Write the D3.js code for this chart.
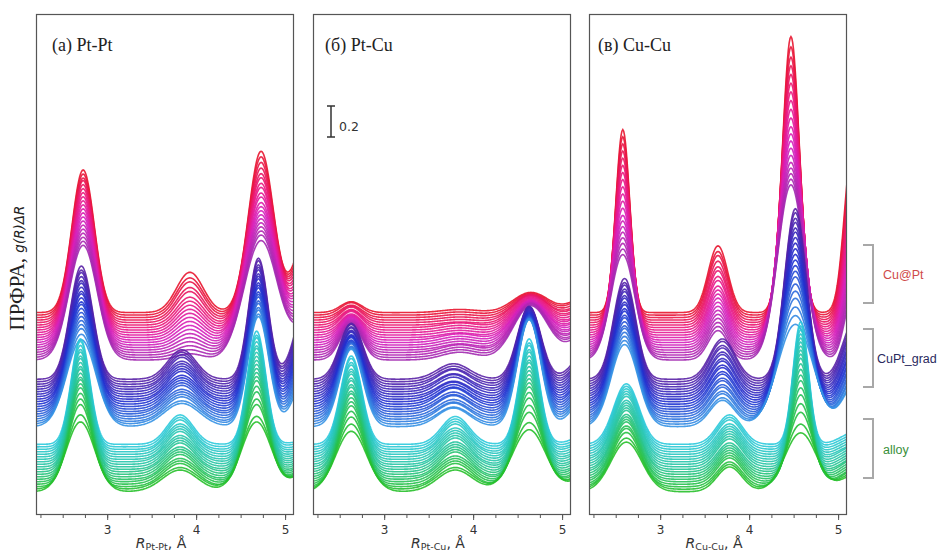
<!DOCTYPE html>
<html><head><meta charset="utf-8">
<script src="https://cdn.jsdelivr.net/npm/d3@7"></script>
<style>body{margin:0;background:#fff} svg{display:block}</style>
</head><body>
<svg id="c" width="943" height="553"></svg>
<script>
// ================= DATA =================
const panelTitles = ["(a) Pt-Pt", "(б) Pt-Cu", "(в) Cu-Cu"];
const pairSubs    = ["Pt-Pt", "Pt-Cu", "Cu-Cu"];
const groupNames  = ["alloy", "CuPt_grad", "Cu@Pt"];
const xDomain     = [2.2, 5.1];
const xTickValues = [3, 4, 5];
const scaleBarValue = 0.2;

// peak centres (Å), peak areas (0 = fixed width) and fixed widths (Å), per group
// ---- Pt-Pt ----
const PtPt_alloy_c = [2.70, 3.82, 4.68, 5.42], PtPt_alloy_n = [0.18, 0.07, 0.19, 0], PtPt_alloy_s = [0, 0, 0, 0.20];
const PtPt_grad_c  = [2.71, 3.84, 4.70, 5.28], PtPt_grad_n  = [0.23, 0.075, 0.21, 0], PtPt_grad_s  = [0, 0, 0, 0.15];
const PtPt_cs_c    = [2.73, 3.93, 4.73, 5.28], PtPt_cs_n    = [0.29, 0, 0.37, 0],     PtPt_cs_s    = [0, 0.15, 0, 0.15];
// peak heights, one row per peak, curves listed bottom -> top
const PtPt_alloy_A = [
 [0.45,0.48,0.53,0.55,0.57,0.59,0.60,0.61,0.61,0.62,0.63,0.63,0.64,0.65,0.65,0.66,0.66,0.67,0.68,0.68],
 [0.14,0.14,0.15,0.15,0.15,0.16,0.16,0.16,0.16,0.17,0.17,0.17,0.17,0.18,0.18,0.18,0.18,0.19,0.19,0.19],
 [0.45,0.47,0.53,0.55,0.58,0.60,0.62,0.63,0.64,0.65,0.66,0.67,0.68,0.69,0.70,0.70,0.71,0.72,0.72,0.73],
 [0.28,0.26,0.24,0.22,0.20,0.19,0.18,0.16,0.15,0.14,0.13,0.12,0.11,0.10,0.09,0.08,0.07,0.06,0.06,0.05]];
const PtPt_grad_A = [
 [0.56,0.58,0.60,0.61,0.62,0.63,0.64,0.65,0.66,0.66,0.67,0.68,0.68,0.69,0.70,0.70,0.71,0.72,0.72,0.73],
 [0.15,0.15,0.16,0.16,0.16,0.16,0.17,0.17,0.17,0.17,0.17,0.18,0.18,0.18,0.18,0.18,0.19,0.19,0.19,0.19],
 [0.71,0.71,0.72,0.72,0.73,0.73,0.74,0.74,0.74,0.75,0.75,0.75,0.76,0.76,0.76,0.77,0.77,0.77,0.78,0.78],
 [0.40,0.41,0.42,0.43,0.44,0.45,0.46,0.47,0.48,0.49,0.50,0.51,0.52,0.52,0.53,0.54,0.55,0.56,0.56,0.57]];
const PtPt_cs_A = [
 [0.74,0.75,0.76,0.77,0.78,0.79,0.80,0.81,0.82,0.83,0.84,0.85,0.86,0.87,0.88,0.89,0.90,0.90,0.91,0.92],
 [0.04,0.05,0.06,0.07,0.08,0.09,0.10,0.11,0.12,0.13,0.14,0.15,0.16,0.17,0.18,0.20,0.21,0.23,0.24,0.26],
 [0.77,0.79,0.80,0.81,0.82,0.83,0.84,0.85,0.86,0.87,0.89,0.90,0.92,0.93,0.95,0.96,0.98,1.00,1.02,1.04],
 [0.25,0.27,0.29,0.30,0.32,0.34,0.35,0.37,0.39,0.40,0.42,0.44,0.46,0.48,0.50,0.52,0.54,0.56,0.58,0.60]];
// ---- Pt-Cu ----
const PtCu_alloy_c = [2.63, 3.80, 4.63, 5.35], PtCu_alloy_n = [0.17, 0.07, 0.19, 0], PtCu_alloy_s = [0, 0, 0, 0.18];
const PtCu_grad_c  = [2.63, 3.78, 4.63, 5.30], PtCu_grad_n  = [0, 0, 0, 0],   PtCu_grad_s  = [0.13, 0.18, 0.13, 0.16];
const PtCu_cs_c    = [2.63, 3.85, 4.65, 5.30], PtCu_cs_n    = [0, 0, 0, 0],   PtCu_cs_s    = [0.12, 0.20, 0.20, 0.18];
const PtCu_alloy_A = [
 [0.39,0.42,0.45,0.47,0.49,0.50,0.51,0.52,0.52,0.53,0.53,0.54,0.54,0.55,0.55,0.55,0.56,0.56,0.57,0.57],
 [0.14,0.14,0.15,0.15,0.15,0.15,0.16,0.16,0.16,0.16,0.16,0.17,0.17,0.17,0.17,0.17,0.18,0.18,0.18,0.18],
 [0.40,0.43,0.48,0.51,0.54,0.56,0.58,0.59,0.60,0.61,0.62,0.63,0.64,0.64,0.65,0.66,0.66,0.67,0.67,0.68],
 [0.14,0.14,0.13,0.13,0.12,0.12,0.12,0.11,0.11,0.11,0.10,0.10,0.10,0.09,0.09,0.09,0.09,0.08,0.08,0.08]];
const PtCu_grad_A = [
 [0.50,0.49,0.48,0.47,0.47,0.46,0.45,0.44,0.43,0.43,0.42,0.41,0.40,0.40,0.39,0.38,0.38,0.37,0.37,0.36],
 [0.12,0.11,0.12,0.11,0.11,0.12,0.11,0.11,0.12,0.11,0.11,0.11,0.10,0.11,0.11,0.10,0.11,0.10,0.10,0.10],
 [0.69,0.68,0.66,0.65,0.64,0.62,0.61,0.60,0.59,0.58,0.57,0.56,0.55,0.54,0.53,0.52,0.51,0.50,0.48,0.47],
 [0.23,0.23,0.23,0.22,0.22,0.22,0.22,0.22,0.22,0.21,0.21,0.21,0.21,0.21,0.21,0.21,0.21,0.20,0.20,0.20]];
const PtCu_cs_A = [
 [0.23,0.22,0.21,0.20,0.19,0.18,0.17,0.16,0.15,0.14,0.13,0.12,0.12,0.11,0.10,0.10,0.09,0.08,0.08,0.07],
 [0.05,0.05,0.05,0.05,0.04,0.04,0.04,0.04,0.04,0.03,0.03,0.03,0.03,0.03,0.02,0.02,0.02,0.02,0.02,0.02],
 [0.35,0.34,0.33,0.32,0.30,0.29,0.28,0.27,0.25,0.24,0.23,0.22,0.21,0.20,0.19,0.18,0.16,0.15,0.14,0.13],
 [0.19,0.19,0.18,0.18,0.17,0.17,0.16,0.16,0.16,0.15,0.15,0.14,0.14,0.14,0.13,0.13,0.12,0.12,0.12,0.11]];
// ---- Cu-Cu ----
const CuCu_alloy_c = [2.62, 3.78, 4.58, 5.20], CuCu_alloy_n = [0.14, 0, 0.17, 0], CuCu_alloy_s = [0, 0.14, 0, 0.16];
const CuCu_grad_c  = [2.60, 3.70, 4.52, 5.18], CuCu_grad_n  = [0.20, 0, 0.33, 0], CuCu_grad_s  = [0, 0.14, 0, 0.13];
const CuCu_cs_c    = [2.58, 3.65, 4.47, 5.16], CuCu_cs_n    = [0.23, 0, 0.42, 0], CuCu_cs_s    = [0, 0.11, 0, 0.09];
const CuCu_alloy_A = [
 [0.32,0.33,0.35,0.36,0.36,0.37,0.37,0.37,0.37,0.38,0.38,0.38,0.38,0.38,0.39,0.39,0.39,0.39,0.39,0.39],
 [0.16,0.16,0.16,0.17,0.17,0.17,0.17,0.17,0.17,0.17,0.18,0.18,0.18,0.18,0.18,0.18,0.18,0.19,0.19,0.19],
 [0.38,0.42,0.48,0.52,0.56,0.59,0.62,0.64,0.66,0.68,0.70,0.71,0.72,0.73,0.74,0.75,0.76,0.77,0.78,0.79],
 [0.11,0.11,0.11,0.10,0.10,0.10,0.10,0.10,0.09,0.09,0.09,0.09,0.09,0.09,0.08,0.08,0.08,0.08,0.08,0.08]];
const CuCu_grad_A = [
 [0.53,0.54,0.55,0.56,0.57,0.57,0.58,0.59,0.59,0.60,0.60,0.61,0.61,0.62,0.62,0.63,0.63,0.64,0.64,0.65],
 [0.17,0.17,0.18,0.18,0.19,0.19,0.20,0.20,0.21,0.21,0.22,0.22,0.23,0.23,0.24,0.24,0.25,0.25,0.26,0.26],
 [0.66,0.70,0.74,0.78,0.81,0.84,0.87,0.89,0.91,0.93,0.95,0.97,0.99,1.01,1.03,1.04,1.06,1.07,1.09,1.10],
 [0.26,0.26,0.27,0.27,0.28,0.28,0.29,0.29,0.30,0.30,0.31,0.31,0.32,0.33,0.33,0.34,0.35,0.35,0.36,0.37]];
const CuCu_cs_A = [
 [0.68,0.70,0.72,0.74,0.76,0.78,0.80,0.82,0.85,0.88,0.91,0.94,0.97,1.00,1.03,1.06,1.09,1.12,1.15,1.18],
 [0.19,0.20,0.21,0.22,0.23,0.24,0.25,0.26,0.27,0.28,0.29,0.30,0.32,0.33,0.35,0.36,0.38,0.40,0.41,0.43],
 [1.13,1.15,1.17,1.19,1.21,1.24,1.27,1.30,1.33,1.36,1.40,1.44,1.48,1.52,1.56,1.60,1.64,1.68,1.73,1.78],
 [0.40,0.42,0.45,0.47,0.50,0.53,0.56,0.59,0.62,0.65,0.68,0.72,0.75,0.79,0.83,0.87,0.91,0.95,1.00,1.05]];

// tables built from the arrays above: [panel][group]
const peakTable = [
 [[PtPt_alloy_c,PtPt_alloy_n,PtPt_alloy_s,PtPt_alloy_A],[PtPt_grad_c,PtPt_grad_n,PtPt_grad_s,PtPt_grad_A],[PtPt_cs_c,PtPt_cs_n,PtPt_cs_s,PtPt_cs_A]],
 [[PtCu_alloy_c,PtCu_alloy_n,PtCu_alloy_s,PtCu_alloy_A],[PtCu_grad_c,PtCu_grad_n,PtCu_grad_s,PtCu_grad_A],[PtCu_cs_c,PtCu_cs_n,PtCu_cs_s,PtCu_cs_A]],
 [[CuCu_alloy_c,CuCu_alloy_n,CuCu_alloy_s,CuCu_alloy_A],[CuCu_grad_c,CuCu_grad_n,CuCu_grad_s,CuCu_grad_A],[CuCu_cs_c,CuCu_cs_n,CuCu_cs_s,CuCu_cs_A]]
];

// ================= LAYOUT / STYLE =================
const svg = d3.select("#c");
const plotTop = 14, plotBottom = 515;
const panelLeft = [36, 313, 589], panelW = 258;
const titleX = [52, 325, 598];
const pxPerUnit = 155;
const y = d3.scaleLinear().domain([0, (plotBottom - plotTop) / pxPerUnit]).range([plotBottom, plotTop]);
const groupBase = [0.15, 0.57, 1.00], curveStep = 0.0161;
const nCurves = 20;
const colorStops = [0, 0.16, 0.322, 0.339, 0.5, 0.661, 0.678, 0.8, 0.9, 1];
const colorVals = ["#27c02a","#26c49a","#2ccadc","#3592e4","#2030d0","#5a22a6","#a22ab0","#d81fbc","#ea177c","#e8142e"];
const color = d3.scaleLinear().domain(colorStops).range(colorVals).interpolate(d3.interpolateRgb);
const Rgrid = d3.range(xDomain[0], xDomain[1] + 0.0001, 0.01);
const SQ2PI = Math.sqrt(2 * Math.PI);

function peaksFor(spec, i) {
  const [c, n, s, A] = spec;
  return c.map((cc, k) => {
    const a = A[k][i];
    let sig = s[k];
    if (n[k] > 0) sig = Math.max(0.075, Math.min(0.22, n[k] / (a * SQ2PI)));
    return {c: cc, A: a, s: sig};
  });
}
function gAt(R, peaks) {
  let v = 0;
  for (const p of peaks) { const d = R - p.c; v += p.A * Math.exp(-d * d / (2 * p.s * p.s)); }
  return v;
}

const defs = svg.append("defs");
const fontSans = "'DejaVu Sans', sans-serif";

panelTitles.forEach((title, p) => {
  const x = d3.scaleLinear().domain(xDomain).range([panelLeft[p], panelLeft[p] + panelW]);
  defs.append("clipPath").attr("id", "clip" + p).append("rect")
    .attr("x", panelLeft[p]).attr("y", plotTop).attr("width", panelW).attr("height", plotBottom - plotTop);
  const g = svg.append("g").attr("clip-path", `url(#clip${p})`);
  const line = d3.line().x(d => x(d[0])).y(d => y(d[1])).curve(d3.curveLinear);
  for (let gi = 2; gi >= 0; gi--) {
    for (let i = nCurves - 1; i >= 0; i--) {
      const peaks = peaksFor(peakTable[p][gi], i);
      const off = groupBase[gi] + i * curveStep;
      const pts = Rgrid.map(R => [R, off + gAt(R, peaks)]);
      const t = (gi * nCurves + i) / (3 * nCurves - 1);
      g.append("path").attr("d", line(pts)).attr("fill", "none")
        .attr("stroke", color(t)).attr("stroke-width", 1.6).attr("stroke-opacity", 0.9);
    }
  }
  // frame
  svg.append("rect").attr("x", panelLeft[p] + 0.5).attr("y", plotTop + 0.5)
    .attr("width", panelW - 1).attr("height", plotBottom - plotTop - 1)
    .attr("fill", "none").attr("stroke", "#555").attr("stroke-width", 1.2);
  // ticks
  const minor = d3.range(2.25, 5.1, 0.25);
  const ax = svg.append("g").attr("transform", `translate(0,${plotBottom})`);
  ax.call(d3.axisBottom(x).tickValues(minor).tickSize(3).tickFormat(""));
  const ax2 = svg.append("g").attr("transform", `translate(0,${plotBottom})`);
  ax2.call(d3.axisBottom(x).tickValues(xTickValues).tickSize(5).tickPadding(5).tickFormat(d3.format("d")));
  [ax, ax2].forEach(a => { a.select(".domain").remove(); a.selectAll("line").attr("stroke", "#555"); });
  ax2.selectAll("text").attr("font-family", fontSans).attr("font-size", 12).attr("fill", "#333");
  // panel title
  svg.append("text").attr("x", titleX[p]).attr("y", 51)
    .attr("font-family", "'Liberation Serif', 'Times New Roman', serif").attr("font-size", 18).attr("fill", "#222")
    .text(title);
  // x label
  const xl = svg.append("text").attr("x", panelLeft[p] + panelW / 2 - 4).attr("y", 548)
    .attr("text-anchor", "middle").attr("font-family", fontSans).attr("font-size", 14).attr("fill", "#333");
  xl.append("tspan").attr("font-style", "italic").text("R");
  xl.append("tspan").attr("font-size", 9.5).attr("dy", 2).text(pairSubs[p]);
  xl.append("tspan").attr("dy", -2).text(", Å");
});

// scale bar in panel (б)
const sbX = 331, sbTop = 106;
const sbH = y(0) - y(scaleBarValue);
svg.append("path").attr("d", `M${sbX - 4},${sbTop}H${sbX + 4}M${sbX},${sbTop}V${sbTop + sbH}M${sbX - 4},${sbTop + sbH}H${sbX + 4}`)
  .attr("stroke", "#333").attr("stroke-width", 1.5).attr("fill", "none");
svg.append("text").attr("x", 339).attr("y", 131).attr("font-family", fontSans).attr("font-size", 12.5)
  .attr("fill", "#333").text(String(scaleBarValue));

// y label
const yl = svg.append("text").attr("transform", "translate(24,268) rotate(-90)").attr("text-anchor", "middle").attr("fill", "#222");
yl.append("tspan").attr("font-family", "'Liberation Serif', serif").attr("font-size", 21).text("ПРФРА, ");
yl.append("tspan").attr("font-family", fontSans).attr("font-style", "italic").attr("font-size", 13.5).text("g(R)ΔR");

// group brackets
const brackets = [[419, 478, "#3a8f3a"], [329, 387, "#2a2a5e"], [245, 303, "#cf4a4a"]];
groupNames.forEach((name, gi) => {
  const [t0, t1, col] = brackets[gi];
  svg.append("path").attr("d", `M863,${t0}H873V${t1}H863`).attr("fill", "none")
    .attr("stroke", "#a8a8a8").attr("stroke-width", 2);
  svg.append("text").attr("x", name === "CuPt_grad" ? 877 : 883).attr("y", (t0 + t1) / 2 + 5)
    .attr("font-family", "'Liberation Sans', Arial, sans-serif").attr("font-size", 12.5).attr("fill", col).text(name);
});
</script>
</body></html>
